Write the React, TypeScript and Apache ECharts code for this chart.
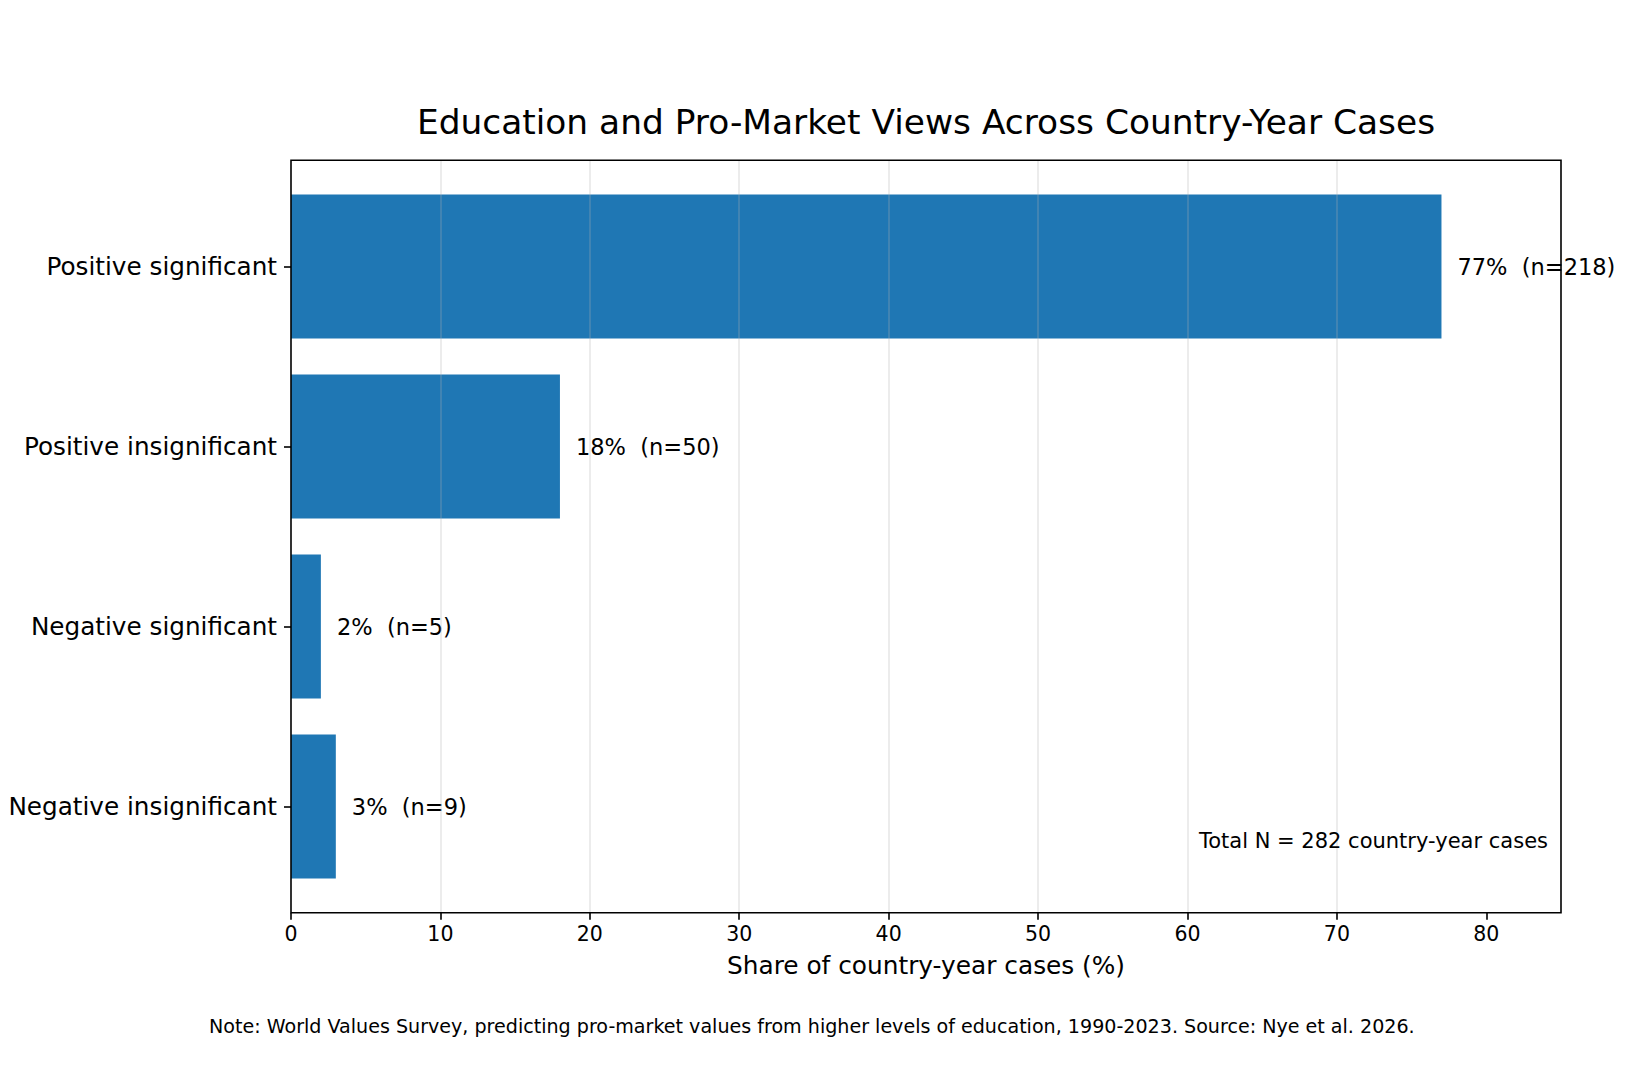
import React, { useRef, useEffect } from 'react';
import * as echarts from 'echarts';

// data
const categories = [
  'Positive significant',
  'Positive insignificant',
  'Negative significant',
  'Negative insignificant',
];
const shares = [77, 18, 2, 3];
const counts = [218, 50, 5, 9];
const xTicks = [0, 10, 20, 30, 40, 50, 60, 70, 80];
const xMax = 85;

const titleText = 'Education and Pro-Market Views Across Country-Year Cases';
const xAxisName = 'Share of country-year cases (%)';
const totalText = 'Total N = 282 country-year cases';
const noteText =
  'Note: World Values Survey, predicting pro-market values from higher levels of education, 1990-2023. Source: Nye et al. 2026.';

const FONT = 'DejaVu Sans';

// plot box (px)
const PLOT_LEFT = 291;
const PLOT_TOP = 160.3;
const PLOT_W = 1270;
const PLOT_H = 752.4;
// matplotlib: bars at 0..3, height 0.8, 5% margins -> 4.18 units tall
const UNIT = PLOT_H / 4.18;

const App: React.FC = () => {
  const chartRef = useRef<HTMLDivElement>(null);

  useEffect(() => {
    if (!chartRef.current) return;
    const chart = echarts.init(chartRef.current, null, { renderer: 'svg' });

    const option = {
      animation: false,
      backgroundColor: '#ffffff',
      textStyle: { fontFamily: FONT },
      title: {
        text: titleText,
        left: PLOT_LEFT + PLOT_W / 2,
        top: 105,
        textAlign: 'center',
        padding: 0,
        textStyle: { fontFamily: FONT, fontSize: 34.4, fontWeight: 'normal', color: '#000' },
      },
      grid: [
        {
          // frame + x axis
          left: PLOT_LEFT,
          top: PLOT_TOP,
          width: PLOT_W,
          height: PLOT_H,
          show: true,
          borderColor: '#000',
          borderWidth: 1.6,
          backgroundColor: 'transparent',
          z: 5,
        },
        {
          // bars
          left: PLOT_LEFT,
          top: PLOT_TOP + 0.09 * UNIT,
          width: PLOT_W,
          height: 4 * UNIT,
          show: false,
        },
      ],
      xAxis: [
        {
          gridIndex: 0,
          type: 'value',
          min: 0,
          max: xMax,
          interval: 10,
          z: 3,
          name: xAxisName,
          nameLocation: 'middle',
          nameGap: 40,
          nameTextStyle: { fontFamily: FONT, fontSize: 24.8, color: '#000' },
          axisLine: { show: false },
          axisTick: {
            show: true,
            length: 7,
            customValues: xTicks,
            lineStyle: { color: '#000', width: 1.6 },
          },
          axisLabel: {
            customValues: xTicks,
            margin: 11,
            fontFamily: FONT,
            fontSize: 20.5,
            color: '#000',
          },
          splitLine: {
            show: true,
            showMinLine: false,
            showMaxLine: false,
            lineStyle: { color: 'rgba(176,176,176,0.3)', width: 1.6 },
          },
        },
        {
          gridIndex: 1,
          type: 'value',
          min: 0,
          max: xMax,
          show: false,
          splitLine: { show: false },
        },
      ],
      yAxis: [
        { gridIndex: 0, type: 'value', show: false, splitLine: { show: false } },
        {
          gridIndex: 1,
          type: 'category',
          data: categories,
          inverse: true,
          axisLine: { show: false },
          axisTick: {
            show: true,
            alignWithLabel: true,
            length: 7,
            lineStyle: { color: '#000', width: 1.6 },
          },
          axisLabel: {
            margin: 14,
            fontFamily: FONT,
            fontSize: 24.7,
            color: '#000',
          },
          splitLine: { show: false },
        },
      ],
      series: [
        {
          type: 'bar',
          xAxisIndex: 1,
          yAxisIndex: 1,
          data: shares,
          barWidth: 0.8 * UNIT,
          itemStyle: { color: '#1f77b4' },
          label: {
            show: true,
            position: 'right',
            distance: 16,
            fontFamily: FONT,
            fontSize: 22.5,
            color: '#000',
            formatter: (p: any) => `${shares[p.dataIndex]}%  (n=${counts[p.dataIndex]})`,
          },
        },
      ],
      graphic: [
        {
          type: 'text',
          right: 1650 - 1548,
          top: 842.7 - 12.5,
          style: { text: totalText, font: `21px "${FONT}"`, fill: '#000' },
          z: 10,
        },
        {
          type: 'text',
          left: 209,
          top: 1028 - 11,
          style: { text: noteText, font: `19.1px "${FONT}"`, fill: '#000' },
        },
      ],
    };

    chart.setOption(option);
    return () => {
      chart.dispose();
    };
  }, []);

  return (
    <div
      ref={chartRef}
      style={{ position: 'absolute', left: 0, top: 0, width: 1650, height: 1068 }}
    />
  );
};

export default App;
